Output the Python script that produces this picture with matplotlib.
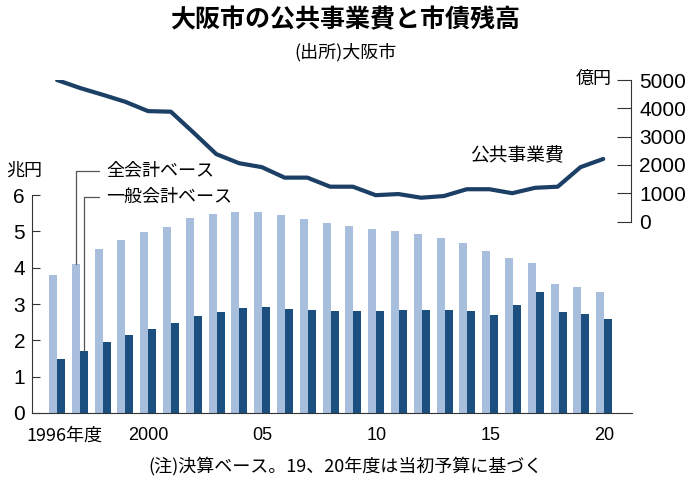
import matplotlib
matplotlib.use("Agg")
import matplotlib.pyplot as plt
import numpy as np

plt.rcParams['font.family'] = ['Noto Sans CJK JP', 'DejaVu Sans']
num_font = ['Liberation Sans Narrow', 'Liberation Sans', 'DejaVu Sans']

# 年度
years = list(range(1996, 2021))
# 市債残高 (兆円)
zen_kaikei = [3.81, 4.09, 4.52, 4.77, 4.99, 5.12, 5.36, 5.49, 5.54, 5.52,
              5.44, 5.33, 5.23, 5.14, 5.07, 5.01, 4.93, 4.83, 4.67, 4.46,
              4.27, 4.13, 3.54, 3.46, 3.33]
ippan_kaikei = [1.50, 1.72, 1.95, 2.14, 2.31, 2.49, 2.67, 2.78, 2.89, 2.92,
                2.85, 2.83, 2.82, 2.81, 2.82, 2.83, 2.84, 2.84, 2.82, 2.70,
                2.96, 3.34, 2.79, 2.72, 2.59]
# 公共事業費 (億円)
koukyou = [5000, 4720, 4480, 4230, 3900, 3880, 3140, 2380, 2060, 1920,
           1550, 1550, 1230, 1230, 930, 970, 840, 900, 1140, 1140,
           1000, 1190, 1230, 1920, 2210]

xtick_pos = [1996.3, 2000, 2005, 2010, 2015, 2020]
xtick_lab = ['1996年度', '2000', '05', '10', '15', '20']

light = '#a7bedc'
dark = '#1a4f80'
navy = '#1c3f66'

W, H = 696, 483
fig = plt.figure(figsize=(W / 100, H / 100), dpi=100)

def rect(x0, x1, ytop, ybot):
    return [x0 / W, 1 - ybot / H, (x1 - x0) / W, (ybot - ytop) / H]

xlim = (1994.9, 2021.22)

# bars
ax = fig.add_axes(rect(32, 632, 195, 413))
yrs = np.array(years)
bw = 0.35
ax.bar(yrs - bw / 2, zen_kaikei, width=bw, color=light)
ax.bar(yrs + bw / 2, ippan_kaikei, width=bw, color=dark)
ax.set_xlim(*xlim)
ax.set_ylim(0, 6)
for s in ['top', 'right']:
    ax.spines[s].set_visible(False)
ax.spines['left'].set_color('#333333')
ax.spines['bottom'].set_color('#333333')
ax.set_yticks(range(7))
ax.set_yticklabels([str(i) for i in range(7)], family=num_font, fontsize=15)
ax.tick_params(axis='y', direction='in', length=6, pad=5, color='#333333')
ax.set_xticks(xtick_pos)
ax.set_xticklabels(xtick_lab, fontsize=13)
for lab in ax.get_xticklabels():
    lab.set_family(num_font + ['Noto Sans CJK JP'])
ax.get_xticklabels()[0].set_family(['Liberation Sans Narrow', 'Noto Sans CJK JP'])
ax.tick_params(axis='x', length=0, pad=10)

# line
ax2 = fig.add_axes(rect(32, 631, 80, 221.5))
ax2.plot(years, koukyou, color=navy, lw=3.0, solid_capstyle='round', solid_joinstyle='round')
ax2.set_xlim(*xlim)
ax2.set_ylim(0, 5000)
ax2.patch.set_visible(False)
for s in ['top', 'left', 'bottom']:
    ax2.spines[s].set_visible(False)
ax2.spines['right'].set_color('#333333')
ax2.set_xticks([])
ax2.yaxis.tick_right()
ax2.set_yticks(range(0, 5001, 1000))
ax2.set_yticklabels([str(v) for v in range(0, 5001, 1000)], family=num_font, fontsize=15)
ax2.tick_params(axis='y', direction='in', length=10, pad=6, color='#333333')

# texts
fig.text(345 / W, 1 - 20 / H, '大阪市の公共事業費と市債残高', ha='center', va='center',
         fontsize=18, fontweight='bold')
fig.text(345 / W, 1 - 52 / H, '(出所)大阪市', ha='center', va='center', fontsize=13)
fig.text(345 / W, 1 - 466 / H, '(注)決算ベース。19、20年度は当初予算に基づく',
         ha='center', va='center', fontsize=13)
fig.text(24 / W, 1 - 171 / H, '兆円', ha='center', va='center', fontsize=13)
fig.text(612 / W, 1 - 79 / H, '億円', ha='right', va='center', fontsize=13)
fig.text(517 / W, 1 - 156 / H, '公共事業費', ha='center', va='center', fontsize=13.5)

# legend leaders
ax.annotate('全会計ベース', xy=(1997 - bw / 2, zen_kaikei[1]), xycoords='data',
            xytext=(106 / W, 1 - 171 / H), textcoords='figure fraction',
            ha='left', va='center', fontsize=13,
            arrowprops=dict(arrowstyle='-', color='#555555', lw=0.9,
                            connectionstyle='angle,angleA=0,angleB=90,rad=0',
                            shrinkA=3, shrinkB=0))
ax.annotate('一般会計ベース', xy=(1997 + bw / 2, ippan_kaikei[1]), xycoords='data',
            xytext=(106 / W, 1 - 197 / H), textcoords='figure fraction',
            ha='left', va='center', fontsize=13,
            arrowprops=dict(arrowstyle='-', color='#555555', lw=0.9,
                            connectionstyle='angle,angleA=0,angleB=90,rad=0',
                            shrinkA=3, shrinkB=0))

fig.savefig('out.png', dpi=100)
